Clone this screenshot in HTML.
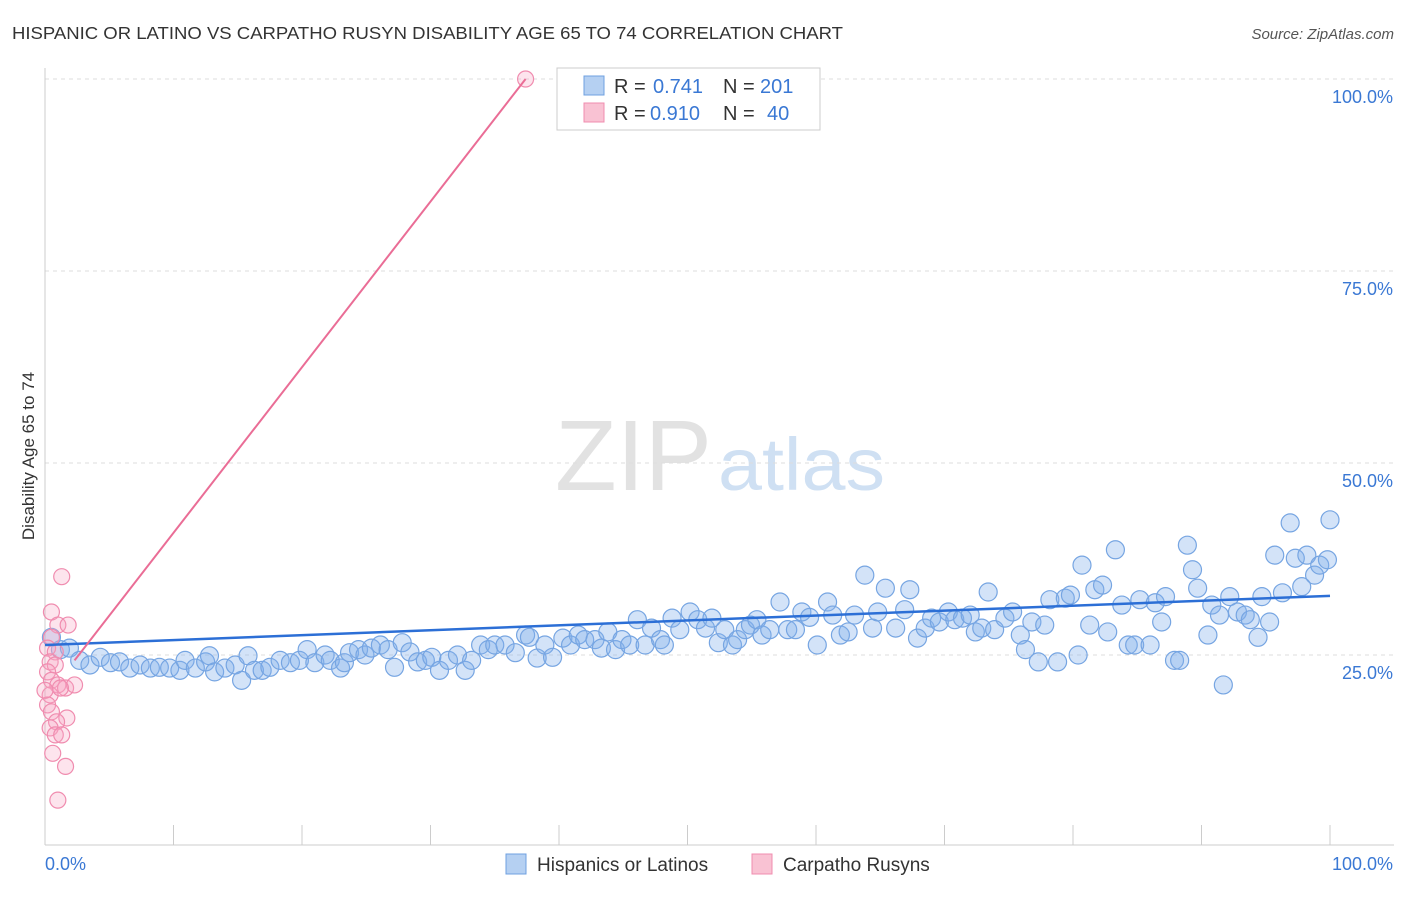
<!DOCTYPE html>
<html><head><meta charset="utf-8"><style>
body{margin:0;background:#fff;font-family:"Liberation Sans",sans-serif;}
svg text{font-family:"Liberation Sans",sans-serif;}
</style></head><body>
<svg id="chart" width="1406" height="892">
<text x="12" y="39" font-size="17.5" fill="#333" textLength="831" lengthAdjust="spacingAndGlyphs">HISPANIC OR LATINO VS CARPATHO RUSYN DISABILITY AGE 65 TO 74 CORRELATION CHART</text>
<text x="1394" y="39" font-size="15" fill="#555" text-anchor="end" font-style="italic">Source: ZipAtlas.com</text>
<text x="34" y="456" font-size="17" fill="#333" text-anchor="middle" transform="rotate(-90 34 456)">Disability Age 65 to 74</text>
<g><text x="555" y="490" font-size="100" fill="#e2e2e2" textLength="157" lengthAdjust="spacingAndGlyphs" font-family="Liberation Serif">ZIP</text><text x="718" y="490" font-size="74" fill="#cfe0f3" textLength="167" lengthAdjust="spacingAndGlyphs">atlas</text></g>
<g id="grid"></g><g id="axes"></g><g id="pts"></g><g id="lines"></g>
<g>
<rect x="557" y="68" width="263" height="62" fill="#fff" stroke="#ccc"/>
<rect x="584" y="76" width="20" height="19" fill="#b5d0f2" stroke="#6fa0e0"/>
<rect x="584" y="103" width="20" height="19" fill="#f9c2d3" stroke="#f08caf"/>
<text x="614" y="93" font-size="20" fill="#333">R =</text><text x="653" y="93" font-size="20" fill="#3a78d4">0.741</text>
<text x="723" y="93" font-size="20" fill="#333">N =</text><text x="760" y="93" font-size="20" fill="#3a78d4">201</text>
<text x="614" y="120" font-size="20" fill="#333">R =</text><text x="650" y="120" font-size="20" fill="#3a78d4">0.910</text>
<text x="723" y="120" font-size="20" fill="#333">N =</text><text x="767" y="120" font-size="20" fill="#3a78d4">40</text>
</g>
<g>
<rect x="506" y="854" width="20" height="20" fill="#b5d0f2" stroke="#6fa0e0"/>
<text x="537" y="871" font-size="19" fill="#333">Hispanics or Latinos</text>
<rect x="752" y="854" width="20" height="20" fill="#f9c2d3" stroke="#f08caf"/>
<text x="783" y="871" font-size="19" fill="#333">Carpatho Rusyns</text>
</g>
</svg>
<script>
const yTicks=[25,50,75,100];
const yTickLabels=["25.0%","50.0%","75.0%","100.0%"];
const xTicks=[0,10,20,30,40,50,60,70,80,90,100];
const blueX=[0.5,1.2,1.9,2.7,3.5,4.3,5.1,5.8,6.6,7.4,8.2,8.9,9.7,10.5,10.9,11.7,12.5,12.8,13.2,14,14.8,15.3,15.8,16.3,16.9,17.5,18.3,19.1,19.8,20.4,21,21.8,22.2,23,23.3,23.7,24.4,24.9,25.4,26.1,26.7,27.2,27.8,28.4,29,29.6,30.1,30.7,31.4,32.1,32.7,33.2,33.9,34.5,35,35.8,36.6,37.4,37.7,38.3,38.9,39.5,40.3,40.9,41.5,42,42.8,43.3,43.8,44.4,44.9,45.5,46.1,46.7,47.2,47.9,48.2,48.8,49.4,50.2,50.8,51.4,51.9,52.4,52.9,53.5,53.9,54.5,54.9,55.4,55.8,56.4,57.2,57.8,58.4,58.9,59.5,60.1,60.9,61.3,61.9,62.5,63,63.8,64.4,64.8,65.4,66.2,66.9,67.3,67.9,68.5,69,69.6,70.3,70.8,71.4,72,72.4,72.9,73.4,73.9,74.7,75.3,75.9,76.3,76.8,77.3,77.8,78.2,78.8,79.4,79.8,80.4,80.7,81.3,81.7,82.3,82.7,83.3,83.8,84.3,84.8,85.2,86,86.4,86.9,87.2,87.9,88.3,88.9,89.3,89.7,90.5,90.8,91.4,91.7,92.2,92.8,93.4,93.8,94.4,94.7,95.3,95.7,96.3,96.9,97.3,97.8,98.2,98.8,99.2,99.8,100];
const blueY=[27.3,25.7,25.9,24.3,23.7,24.7,24,24.1,23.3,23.7,23.3,23.4,23.3,23,24.3,23.3,24.1,24.9,22.8,23.3,23.7,21.7,24.9,23,23,23.4,24.3,24,24.3,25.7,24,25,24.3,23.3,24,25.3,25.7,25,25.9,26.3,25.7,23.4,26.6,25.4,24.1,24.3,24.7,23,24.3,25,23,24.3,26.3,25.7,26.3,26.3,25.3,27.6,27.3,24.6,26.3,24.7,27.2,26.3,27.6,27,27,25.9,28,25.7,27,26.3,29.6,26.3,28.5,27,26.3,29.8,28.3,30.6,29.6,28.5,29.8,26.6,28.3,26.3,27,28.3,28.9,29.6,27.6,28.3,31.9,28.3,28.3,30.6,29.9,26.3,31.9,30.2,27.6,28,30.2,35.4,28.5,30.6,33.7,28.5,30.9,33.5,27.2,28.5,29.8,29.3,30.6,29.6,29.8,30.2,28,28.5,33.2,28.3,29.8,30.6,27.6,25.7,29.3,24.1,28.9,32.2,24.1,32.4,32.8,25,36.7,28.9,33.5,34.1,28,38.7,31.5,26.3,26.3,32.2,26.3,31.8,29.3,32.6,24.3,24.3,39.3,36.1,33.7,27.6,31.5,30.2,21.1,32.6,30.6,30.2,29.6,27.3,32.6,29.3,38,33.1,42.2,37.6,33.9,38,35.4,36.7,37.4,42.6];
const pinkX=[1.3,0.5,1,1.8,0.5,0.2,0.8,0.4,0.8,0.2,0.5,1,1.6,2.3,0.4,0.2,0.5,1.7,0.9,0.4,0.8,1.3,0.6,1.6,1,37.4,1.2,0];
const pinkY=[35.2,30.6,28.9,28.9,27.3,25.9,25.4,24.1,23.7,22.8,21.7,21.1,20.7,21.1,19.8,18.5,17.6,16.8,16.3,15.5,14.6,14.6,12.2,10.5,6.1,100,20.7,20.4];
const blueTrend=[[0,26.3],[100,32.7]];
const pinkTrend=[[2.3,24.3],[37.4,100]];
const NS="http://www.w3.org/2000/svg";
const sx=v=>45+v*12.85, sy=v=>847-v*7.68;
function mk(t,a,p){const e=document.createElementNS(NS,t);for(const k in a)e.setAttribute(k,a[k]);p.appendChild(e);return e;}
const grid=document.getElementById('grid'),axes=document.getElementById('axes'),pts=document.getElementById('pts'),lines=document.getElementById('lines');
yTicks.forEach((t,i)=>{
 const l=mk('line',{x1:45,x2:1394,y1:sy(t),y2:sy(t),stroke:'#ddd','stroke-dasharray':'4,4'},grid);
 
 
 const tx=mk('text',{x:1393,y:sy(t)+24,'font-size':18,fill:'#3a78d4','text-anchor':'end'},grid);
 tx.textContent=yTickLabels[i];
 
 
});
const ax=mk('line',{x1:45,x2:1394,y1:845,y2:845,stroke:'#ccc'},axes);


const ay=mk('line',{x1:45,x2:45,y1:68,y2:845,stroke:'#ccc'},axes);


xTicks.forEach(t=>{
 const l=mk('line',{x1:sx(t),x2:sx(t),y1:825,y2:845,stroke:'#ccc'},axes);
 
 
});
[[0,"0.0%",'start',45],[100,"100.0%",'end',1393]].forEach(d=>{
 const tx=mk('text',{x:d[3],y:870,'font-size':18,fill:'#3a78d4','text-anchor':d[2]},axes);
 tx.textContent=d[1];
 
 
});
blueX.forEach((x,i)=>{
 const c=mk('circle',{cx:sx(x),cy:sy(blueY[i]),r:9,fill:'rgba(130,175,235,0.35)',stroke:'#76a5e2','stroke-width':1.2},pts);
 
 
});
pinkX.forEach((x,i)=>{
 const c=mk('circle',{cx:sx(x),cy:sy(pinkY[i]),r:8,fill:'rgba(248,165,195,0.3)',stroke:'#f08caf','stroke-width':1.2},pts);
 
 
});
const bl=mk('line',{x1:sx(blueTrend[0][0]),y1:sy(blueTrend[0][1]),x2:sx(blueTrend[1][0]),y2:sy(blueTrend[1][1]),stroke:'#2c6fd6','stroke-width':2.5},lines);


const pl=mk('line',{x1:sx(pinkTrend[0][0]),y1:sy(pinkTrend[0][1]),x2:sx(pinkTrend[1][0]),y2:sy(pinkTrend[1][1]),stroke:'#ea6d96','stroke-width':2},lines);


</script>
</body></html>
